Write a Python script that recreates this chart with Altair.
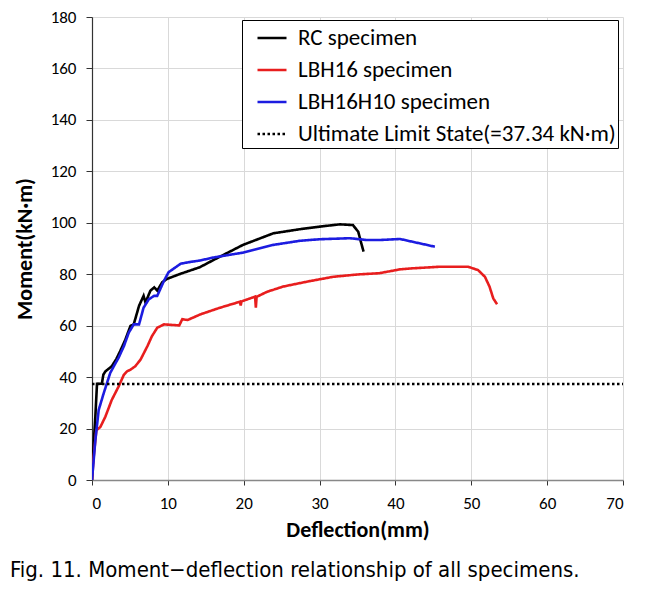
import altair as alt
import pandas as pd

series_names = ["RC specimen", "LBH16 specimen", "LBH16H10 specimen",
                "Ultimate Limit State(=37.34 kN·m)"]

rc_x = [0, 0.22, 0.44, 0.66, 1.3, 1.5, 1.76, 2.6, 3.2, 3.7, 4.4, 5.07, 5.5, 6.2, 6.8,
        7.05, 7.7, 8.2, 8.6, 9.26, 9.9, 11.7, 14.2, 16.0, 19.9, 23.9, 27.4, 30.0, 32.7,
        34.4, 35.1, 35.5, 35.8]
rc_y = [0, 14, 24.6, 37.4, 37.4, 41, 42.2, 44.2, 47, 50, 54.6, 59.9, 60.5, 67.7, 71.6,
        69, 73.6, 74.9, 73.6, 76.9, 78.2, 80.2, 82.7, 85.5, 91.4, 95.9, 97.5, 98.5, 99.4,
        99.1, 96.5, 92, 88.8]

lbh16_x = [0, 0.22, 0.57, 1.1, 1.76, 2.6, 3.5, 4.2, 4.6, 5.07, 5.7, 6.4, 7.3, 7.9, 8.6,
           9.5, 11.5, 11.9, 12.6, 14.3, 16.9, 19.5, 19.6, 19.7, 21.5, 21.6, 21.7, 23.1,
           25.2, 28.5, 31.8, 35.0, 37.9, 40.6, 42.3, 45.8, 49.6, 50.9, 51.8, 52.4, 52.9, 53.4]
lbh16_y = [0, 8.9, 19.3, 20.6, 24.6, 31.1, 36.3, 40.9, 42.2, 42.9, 44.2, 46.8, 52, 55.9,
           59.2, 60.5, 60.1, 62.5, 62.2, 64.4, 67, 69.3, 67.8, 69.4, 71.3, 67, 71.2, 73.2,
           75.2, 77.2, 79, 79.9, 80.4, 81.9, 82.3, 82.9, 82.9, 81.6, 79, 75.2, 70.6, 68.3]

lbh16h10_x = [0, 0.44, 0.88, 1.54, 2.4, 2.87, 3.5, 4.2, 4.85, 5.5, 6.2, 6.8, 7.5, 8.2, 8.6,
              9.5, 10.1, 11.7, 13.0, 14.2, 16.0, 19.9, 23.9, 27.4, 30.0, 34.0, 36.2, 37.9,
              40.6, 45.2]
lbh16h10_y = [0, 15.4, 27.2, 33.7, 41.6, 44.2, 47.5, 52, 57.3, 60.5, 60.5, 67, 70.3, 71.6,
              71.6, 77.5, 80.8, 84.1, 84.8, 85.3, 86.5, 88.4, 91.4, 93.0, 93.6, 94.0, 93.3,
              93.3, 93.7, 90.7]

uls_x = [0, 70]
uls_y = [37.34, 37.34]

x_ticks = [0, 10, 20, 30, 40, 50, 60, 70]
y_ticks = [0, 20, 40, 60, 80, 100, 120, 140, 160, 180]

colors = ["#000000", "#e81e1e", "#1c1ce0", "#000000"]
dashes = [[1, 0], [1, 0], [1, 0], [2.5, 2.5]]

rows = []
for name, xs, ys in zip(series_names,
                        [rc_x, lbh16_x, lbh16h10_x, uls_x],
                        [rc_y, lbh16_y, lbh16h10_y, uls_y]):
    for i, (xv, yv) in enumerate(zip(xs, ys)):
        rows.append({"series": name, "x": xv, "y": yv, "i": i})
df = pd.DataFrame(rows)

label_font = "Carlito, Lato"

legend = alt.Legend(
    title=None, orient="none", legendX=150, legendY=3,
    symbolType="stroke", symbolSize=841, symbolStrokeWidth=2.6, symbolOffset=12,
    labelFont=label_font, labelFontSize=23, labelColor="#000000", labelOffset=10,
    labelExpr="datum.label + '\u00a0\u00a0\u00a0\u00a0'",
    rowPadding=4, padding=2, strokeColor="#000000", fillColor="#ffffff",
    labelLimit=500,
)

chart = alt.Chart(df).mark_line(strokeWidth=2.6, clip=True).encode(
    x=alt.X("x:Q", scale=alt.Scale(domain=[0, 70], nice=False),
            axis=alt.Axis(values=x_ticks, title="Deflection(mm)")),
    y=alt.Y("y:Q", scale=alt.Scale(domain=[0, 180], nice=False),
            axis=alt.Axis(values=y_ticks, title="Moment(kN·m)")),
    color=alt.Color("series:N", scale=alt.Scale(domain=series_names, range=colors),
                    legend=legend),
    strokeDash=alt.StrokeDash("series:N", scale=alt.Scale(domain=series_names, range=dashes),
                              legend=legend),
    order="i:Q",
).properties(
    width=531, height=463,
    autosize=alt.AutoSizeParams(type="none"),
    padding={"left": 84, "top": 9, "right": 21, "bottom": 104},
    title=alt.Title(
        "Fig. 11. Moment−deflection relationship of all specimens.",
        orient="bottom", anchor="start", frame="group", dx=-82, offset=20,
        font="Liberation Sans Narrow, DejaVu Sans Condensed, Noto Sans CJK KR",
        fontSize=22, fontWeight="normal", color="#000000",
    ),
).configure_view(
    stroke=None
).configure_axis(
    grid=True, gridColor="#d9d9d9", gridWidth=1,
    domainColor="#333333", domainWidth=1.2, tickColor="#333333", tickSize=6,
    labelFont=label_font, labelFontSize=17, labelColor="#000000", labelPadding=10,
    titleFont=label_font, titleFontSize=22, titleFontWeight="bold", titleColor="#000000",
).configure_axisX(
    titlePadding=8, labelPadding=10, domainColor="#888888", domainWidth=1.6, tickSize=5
).configure_axisY(
    titlePadding=14
)

chart.save("out.html", embed_options={"renderer": "svg", "actions": False})
